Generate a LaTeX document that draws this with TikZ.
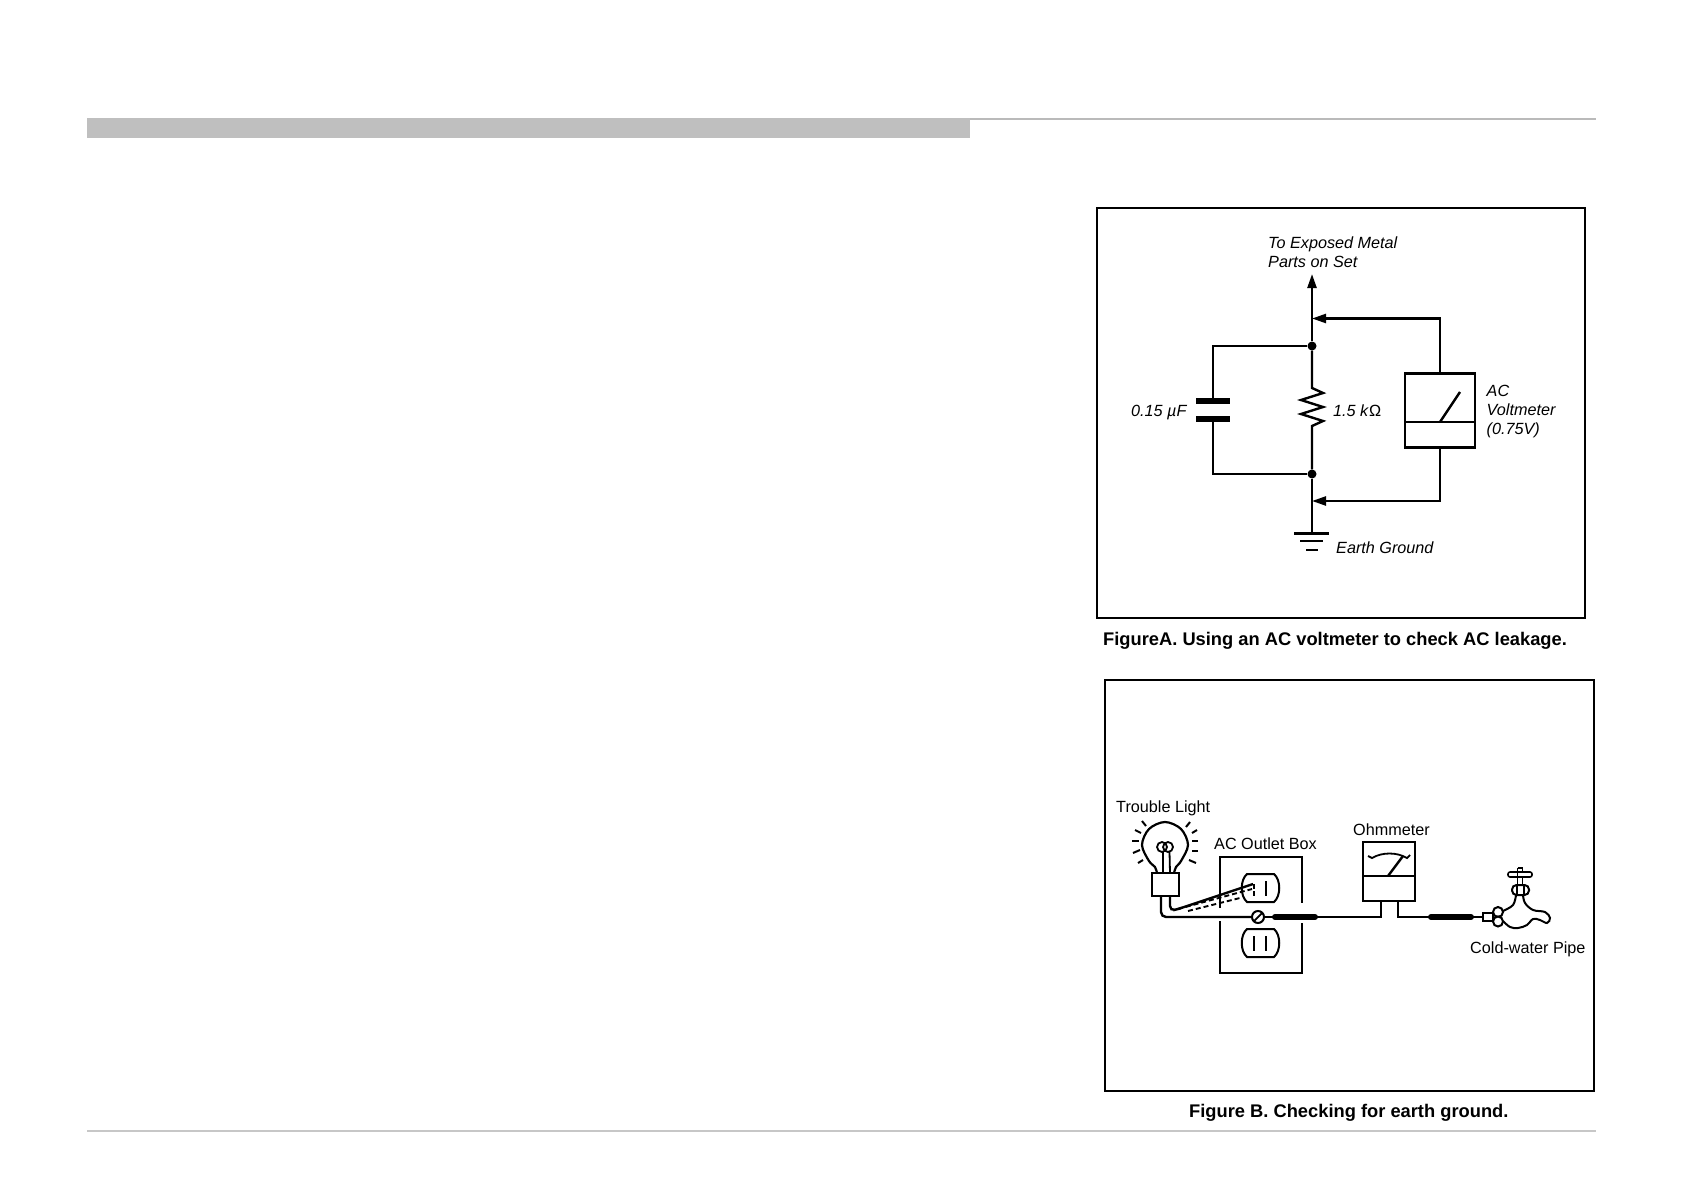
\documentclass[tikz,border=0pt]{standalone}
\usepackage{fontspec}
\setmainfont{Liberation Sans}
\usetikzlibrary{arrows.meta}
\tikzset{
  x=1pt,y=-1pt,
  wire/.style={line width=2.4pt,line join=miter,black},
  thinwire/.style={line width=2pt,black},
  fig/.style={draw=black,line width=2.6pt,fill=white,inner sep=0pt,rectangle},
  meter/.style={draw=black,line width=2.4pt,fill=white,inner sep=0pt,rectangle},
  dot/.style={circle,fill=black,inner sep=0pt,minimum size=9pt},
  labelA/.style={anchor=base west,inner sep=0pt,font=\fontsize{16.2}{20}\selectfont\itshape},
  labelB/.style={anchor=base west,inner sep=0pt,font=\fontsize{16.2}{20}\selectfont},
  caption/.style={anchor=base west,inner sep=0pt,font=\fontsize{18.3}{24}\selectfont\bfseries},
  arrowtip/.style={-{Triangle[length=14pt,width=9pt]}},
  plate/.style={line width=6pt,black},
  shield/.style={line width=6pt,line cap=round,black},
}
\begin{document}
\begin{tikzpicture}
\useasboundingbox[fill=white] (0,0) rectangle (1684,1191);
% page furniture
\fill[fill=black!25] (87,118) rectangle (970,138);
\fill[fill=black!27] (970,118) rectangle (1596,120);
\fill[fill=black!22] (87,1130) rectangle (1596,1132);

% ---------- Figure A ----------
\node[fig,minimum width=488pt,minimum height=410pt] (frameA) at (1341,413) {};
\node[labelA] (exposedA) at (1268,248.5) {To Exposed Metal};
\node[labelA] (exposedB) at (1268,267.5) {Parts on Set};
\node[labelA] (capval) at (1131,416.5) {0.15 µF};
\node[labelA] (resval) at (1333,416.5) {1.5 k\textup{Ω}};
\node[labelA] (acA) at (1486.5,396.5) {AC};
\node[labelA] (acB) at (1486.5,415.5) {Voltmeter};
\node[labelA] (acC) at (1486.5,434.5) {(0.75V)};
\node[labelA] (earth) at (1336,553) {Earth Ground};
\node[caption] (capA) at (1103,645) {FigureA. Using an AC voltmeter to check AC leakage.};

\node[dot] (top) at (1312,346) {};
\node[dot] (bot) at (1312,474) {};
\coordinate (tip) at (1312,274);
\coordinate (hiIn) at (1312,318.5);
\coordinate (loIn) at (1312,501);
\coordinate (gnd) at (1312,533);
\coordinate (resT) at (1312,388);
\coordinate (resB) at (1312,426);
\coordinate (capT) at (1213,401);
\coordinate (capB) at (1213,419);
\node[meter,minimum width=70pt,minimum height=74pt] (vm) at (1440,410.5) {};
\draw[wire,arrowtip] (top) -- (tip);
\draw[wire] (top) -- (resT) -- (1323,393) -- (1301,400) -- (1323,407) -- (1301,414) -- (1323,421) -- (resB) -- (bot);
\draw[wire] (bot) -- (gnd);
\draw[wire] (top) -| (capT);
\draw[wire] (bot) -| (capB);
\draw[plate] (1196,401) -- (1230,401);
\draw[plate] (1196,419) -- (1230,419);
\draw[wire,arrowtip] (vm.north) |- (hiIn);
\draw[wire,arrowtip] (vm.south) |- (loIn);
\draw[wire] (1405,422) -- (1475,422);
\draw[wire] (1440,422) -- (1460,392);
\draw[line width=3pt] (1294,533) -- (1329,533);
\draw[wire] (1300,541) -- (1323,541);
\draw[wire] (1306,550) -- (1318,550);

% ---------- Figure B ----------
\node[fig,minimum width=489pt,minimum height=411pt] (frameB) at (1349.5,885.5) {};
\node[labelB] (trouble) at (1116,812.5) {Trouble Light};
\node[labelB] (outletlab) at (1214,849) {AC Outlet Box};
\node[labelB] (ohmlab) at (1353,835) {Ohmmeter};
\node[labelB] (coldlab) at (1470,953) {Cold-water Pipe};
\node[caption] (capB2) at (1189,1117) {Figure B. Checking for earth ground.};

% outlet box
\draw[thinwire] (1219.5,908) -- (1219.5,857) -- (1302,857) -- (1302,903);
\draw[thinwire] (1219.5,921) -- (1219.5,973) -- (1302,973) -- (1302,923);
% outlets
\foreach \t/\b in {874/902,929/957}{
  \draw[thinwire] (1247,\t) -- (1274,\t) .. controls (1281,\t+6) and (1281,\b-6) .. (1274,\b) -- (1247,\b) .. controls (1240,\b-6) and (1240,\t+6) .. (1247,\t) -- cycle;
}
\draw[thinwire] (1254,884) -- (1254,889) (1254,891) -- (1254,896);
\draw[thinwire] (1266,881) -- (1266,896);
\draw[thinwire] (1254,936) -- (1254,951);
\draw[thinwire] (1266,936) -- (1266,951);

% bulb
\node[meter,minimum width=27pt,minimum height=23pt] (base) at (1165.5,884.5) {};
\draw[line width=2.2pt] plot[smooth,tension=.55] coordinates {(1157,873) (1155,867) (1149,861) (1142,845) (1149,829) (1165,822) (1181,829) (1188,845) (1181,861) (1176,867) (1174,873)};
\draw[line width=1.8pt] (1162,847) circle[radius=5pt] (1168,847) circle[radius=5pt];
\draw[line width=1.8pt] (1163,852) -- (1163,873) (1169.5,852) -- (1170,873);
\foreach \ax/\ay/\bx/\by in {1142/821/1146/826,1135/830/1141/833,1132/841/1139/841,1133/853/1140/850,1138/863/1143/860,1190/822/1186/827,1197/830/1192/833,1198/841/1192/841,1198/851/1192/851,1196/863/1189/860}{
  \draw[line width=2pt] (\ax,\ay) -- (\bx,\by);
}

% screw
\node[circle,draw=black,line width=2pt,fill=white,inner sep=0pt,minimum size=12pt] (screw) at (1258,917) {};
\draw[line width=1.8pt] (1254,921) -- (1262,913);

% ohmmeter
\node[meter,minimum width=52pt,minimum height=59pt] (ohm) at (1389,871.5) {};
\draw[wire] (1363,876) -- (1415,876);
\draw[wire] (1388,876) -- (1403,856);
\draw[line width=1.8pt] (1368,856) -- (1372,858) .. controls (1382,852) and (1397,852) .. (1407,858) -- (1410,855);

% wires
\coordinate (baseL) at (1161,896);
\coordinate (baseR) at (1170,896);
\coordinate (plug) at (1253,884);
\coordinate (ohmL) at (1381,901);
\coordinate (ohmR) at (1398,901);
\draw[wire,rounded corners=5pt] (baseL) -- (1161,917) -- (screw.west);
\draw[wire,rounded corners=5pt] (baseR) -- (1170,911) -- (1178,909) -- (plug);
\draw[line width=1.9pt,dash pattern=on 5pt off 3pt] (1178,909) -- (1252,889);
\draw[line width=1.9pt,dash pattern=on 5pt off 3pt] (1188,911) -- (1240,898);
\draw[wire] (screw.east) -- (1381,917) -- (ohmL);
\draw[wire] (ohmR) -- (1398,917) -- (1483,917);
\draw[shield] (1275,917) -- (1315,917);
\draw[shield] (1431,917) -- (1471,917);

% faucet
\draw[line width=1.6pt,rounded corners=2pt] (1508,872) rectangle (1532,877);
\draw[line width=1.6pt] (1517.5,868) -- (1517.5,885) (1522.5,868) -- (1522.5,872);
\draw[line width=1.6pt] (1522.5,877) -- (1522.5,885) (1517.5,868) -- (1522.5,868);
\draw[thinwire] plot[smooth,tension=.6] coordinates {(1516,895) (1513,905) (1503,911)};
\draw[thinwire] plot[smooth,tension=.6] coordinates {(1523,895) (1525,903) (1533,910) (1545,912) (1550,918) (1547,923) (1540,920) (1533,919) (1527,925) (1518,928) (1510,927) (1503,921)};
\draw[thinwire,fill=white,rounded corners=4.5pt] (1512,885) rectangle (1529,895);
\draw[thinwire] (1516.5,885) -- (1516.5,895) (1523.5,885) -- (1523.5,895);
\node[circle,draw=black,line width=2pt,fill=white,inner sep=0pt,minimum size=10pt] (j1) at (1498,912) {};
\node[circle,draw=black,line width=2pt,fill=white,inner sep=0pt,minimum size=10pt] (j2) at (1498,921.5) {};
\draw[thinwire,fill=white] (1483,913) rectangle (1493,921);
\end{tikzpicture}
\end{document}
